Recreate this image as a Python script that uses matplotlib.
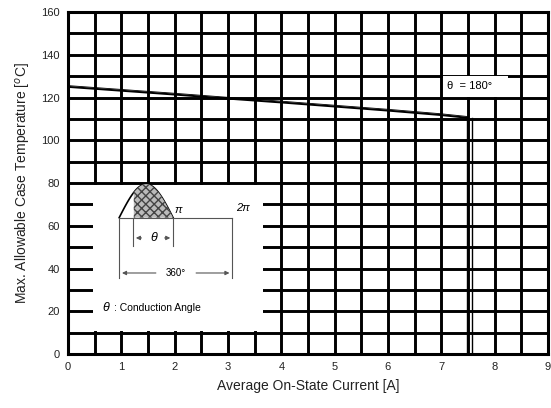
import numpy as np
import matplotlib.pyplot as plt
from matplotlib.patches import Rectangle

plt.rcParams['font.family'] = ['Liberation Sans', 'DejaVu Sans']

# curve data: average on-state current [A] vs max. case temperature [C]
current = [0.0, 1.0, 2.0, 3.0, 4.0, 5.0, 6.0, 7.0, 7.5]
temp = [125.0, 123.2, 121.4, 119.5, 117.7, 115.8, 113.9, 111.8, 110.5]
i_limit = 7.53

xticks = list(range(0, 10))
yticks = list(range(0, 161, 20))

fig = plt.figure(figsize=(5.51, 4.08), dpi=100)
ax = fig.add_axes([0.1234, 0.1324, 0.8711, 0.838])
ax.set_xlim(0, 9)
ax.set_ylim(0, 160)
ax.set_xticks(xticks)
ax.set_yticks(yticks)
ax.set_xticks(np.arange(0.5, 9, 1), minor=True)
ax.set_yticks(np.arange(10, 160, 20), minor=True)
ax.tick_params(which='both', length=0, labelsize=8, pad=6, labelcolor='#222222')
ax.grid(which='both', color='black', lw=2.1)
ax.set_axisbelow(True)
for s in ax.spines.values():
    s.set_linewidth(2.2)
    s.set_zorder(5)

# main curve
ax.plot(current, temp, color='black', lw=1.4, zorder=3)
ax.plot([c for c in current], [t + 0.6 for t in temp], color='black', lw=0.6, zorder=3)
ax.plot([i_limit - 0.04, i_limit - 0.04], [0, temp[-1]], color='black', lw=1.0, zorder=3)
ax.plot([i_limit + 0.04, i_limit + 0.04], [0, temp[-1]], color='black', lw=1.0, zorder=3)

# label box
ax.add_patch(Rectangle((7.03, 120.2), 1.22, 10.0, facecolor='white', edgecolor='none', zorder=4))
ax.text(7.1, 125.2, 'θ  = 180°', fontsize=8, va='center', ha='left', zorder=6)

# inset with waveform
ax.add_patch(Rectangle((0.46, 10.8), 3.2, 68.4, facecolor='white', edgecolor='none', zorder=4))
x0, xpi, x2pi, base, amp = 0.96, 1.97, 3.08, 63.8, 15.7
xs = np.linspace(x0, xpi, 60)
ys = base + amp * np.sin(np.pi * (xs - x0) / (xpi - x0))
ax.plot(xs, ys, color='black', lw=1.2, zorder=5)
xon = 1.22
m = xs >= xon
ax.fill_between(xs[m], base, ys[m], facecolor='#bbbbbb', edgecolor='#444444', hatch='xxxx', lw=0, zorder=5)
g = '#555555'
ax.plot([x0, x2pi], [base, base], color=g, lw=0.8, zorder=5)
ax.plot([x0, x0], [base, 35.5], color=g, lw=0.8, zorder=5)
ax.plot([x2pi, x2pi], [base, 35.5], color=g, lw=0.8, zorder=5)
ax.plot([xon, xon], [base, 50.5], color=g, lw=0.8, zorder=5)
ax.plot([xpi, xpi], [base, 50.5], color=g, lw=0.8, zorder=5)
ax.annotate('', xy=(xon, 54.3), xytext=(1.43, 54.3),
            arrowprops=dict(arrowstyle='-|>', color=g, lw=0.8, mutation_scale=6), zorder=5)
ax.annotate('', xy=(xpi, 54.3), xytext=(1.76, 54.3),
            arrowprops=dict(arrowstyle='-|>', color=g, lw=0.8, mutation_scale=6), zorder=5)
ax.text(1.6, 54.3, 'θ', fontsize=9, style='italic', ha='center', va='center', zorder=6)
ax.annotate('', xy=(x0, 37.9), xytext=(1.7, 37.9),
            arrowprops=dict(arrowstyle='-|>', color=g, lw=0.8, mutation_scale=6), zorder=5)
ax.annotate('', xy=(x2pi, 37.9), xytext=(2.35, 37.9),
            arrowprops=dict(arrowstyle='-|>', color=g, lw=0.8, mutation_scale=6), zorder=5)
ax.text(2.02, 37.9, '360°', fontsize=7, ha='center', va='center', zorder=6)
ax.text(2.0, 67.5, 'π', fontsize=8, style='italic', ha='left', va='center', zorder=6)
ax.text(3.15, 68.5, '2π', fontsize=8, style='italic', ha='left', va='center', zorder=6)
ax.text(0.64, 21.5, 'θ', fontsize=9, style='italic', ha='left', va='center', zorder=6)
ax.text(0.86, 21.5, ': Conduction Angle', fontsize=7.5, ha='left', va='center', zorder=6)

ax.set_xlabel('Average On-State Current [A]', fontsize=10, labelpad=5, color='#222222')
ax.set_ylabel('Max. Allowable Case Temperature [$^o$C]', fontsize=10, labelpad=6, color='#222222')

fig.savefig('out.png', dpi=100)
